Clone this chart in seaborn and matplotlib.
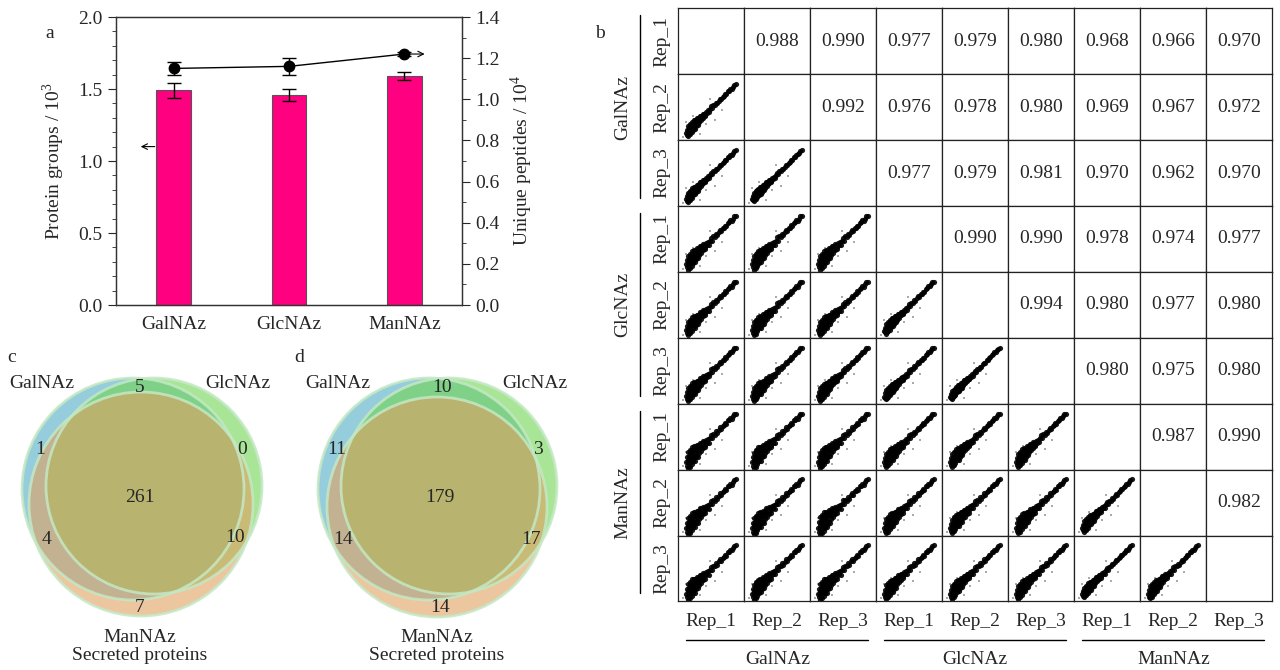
import numpy as np
import matplotlib
matplotlib.use("Agg")
import matplotlib.pyplot as plt
import seaborn as sns
from matplotlib.patches import Circle
from matplotlib.ticker import MultipleLocator, FormatStrFormatter

# ---- data ----
groups = ["GalNAz", "GlcNAz", "ManNAz"]
reps = ["Rep_1", "Rep_2", "Rep_3"]

protein_groups = [1.49, 1.46, 1.59]      # x 10^3
protein_err = [0.05, 0.04, 0.025]
peptides = [1.15, 1.16, 1.22]            # x 10^4
peptides_err = [0.033, 0.043, 0.010]

# Pearson r, upper triangle (row i, columns i+1 .. 8)
corr_upper = [
    [0.988, 0.990, 0.977, 0.979, 0.980, 0.968, 0.966, 0.970],
    [0.992, 0.976, 0.978, 0.980, 0.969, 0.967, 0.972],
    [0.977, 0.979, 0.981, 0.970, 0.962, 0.970],
    [0.990, 0.990, 0.978, 0.974, 0.977],
    [0.994, 0.980, 0.977, 0.980],
    [0.980, 0.975, 0.980],
    [0.987, 0.990],
    [0.982],
]

# approximate shape of the replicate scatter clouds (x, offset from diagonal)
cloud = [
    (0.12, 0.01), (0.13, -0.03), (0.13, 0.05), (0.14, 0.02), (0.14, -0.06),
    (0.15, 0.08), (0.15, -0.01), (0.16, 0.04), (0.16, -0.05), (0.17, 0.09),
    (0.17, 0.00), (0.18, -0.07), (0.18, 0.06), (0.19, 0.02), (0.19, -0.03),
    (0.20, 0.07), (0.20, -0.06), (0.21, 0.03), (0.21, 0.09), (0.22, -0.02),
    (0.22, 0.05), (0.23, -0.05), (0.23, 0.01), (0.24, 0.08), (0.24, -0.03),
    (0.25, 0.04), (0.25, -0.06), (0.26, 0.00), (0.26, 0.06), (0.27, -0.04),
    (0.27, 0.03), (0.28, 0.07), (0.28, -0.02), (0.29, 0.02), (0.30, -0.05),
    (0.30, 0.05), (0.31, 0.00), (0.32, 0.04), (0.32, -0.03), (0.33, 0.06),
    (0.34, 0.01), (0.35, -0.03), (0.35, 0.04), (0.36, 0.00), (0.37, 0.05),
    (0.38, -0.02), (0.39, 0.03), (0.40, 0.00), (0.41, -0.03), (0.42, 0.03),
    (0.43, 0.00), (0.45, 0.02), (0.46, -0.02), (0.48, 0.01), (0.50, 0.03),
    (0.51, -0.01), (0.53, 0.02), (0.55, 0.00), (0.57, 0.02), (0.59, -0.01),
    (0.61, 0.01), (0.63, 0.02), (0.65, -0.01), (0.67, 0.01), (0.69, 0.00),
    (0.71, 0.01), (0.73, -0.01), (0.75, 0.01), (0.77, 0.00), (0.79, 0.01),
    (0.81, -0.01), (0.83, 0.00), (0.85, 0.01), (0.87, 0.00),
]
outliers = [(0.07, 0.05), (0.42, 0.24), (0.66, 0.45), (0.22, 0.36),
            (0.33, 0.09), (0.55, 0.31), (0.12, 0.27), (0.48, 0.62)]

# venn region counts: GalNAz, GlcNAz, ManNAz, Gal&Glc, Gal&Man, Glc&Man, all
venn_c = [1, 0, 7, 5, 4, 10, 261]
venn_d = [11, 3, 14, 10, 14, 17, 179]

sns.set_style("ticks")
plt.rcParams["font.family"] = ["Liberation Serif", "DejaVu Serif"]
plt.rcParams["mathtext.fontset"] = "custom"
plt.rcParams["mathtext.rm"] = "Liberation Serif"
FS = 14

fig = plt.figure(figsize=(12.8, 6.7), dpi=100)
W, H = 1280, 670


def rect(x0, y0, x1, y1):
    return [x0 / W, 1 - y1 / H, (x1 - x0) / W, (y1 - y0) / H]


# overlay in pixel coordinates for labels, lines and venns
bg = fig.add_axes([0, 0, 1, 1])
bg.set_xlim(0, W)
bg.set_ylim(H, 0)
bg.axis("off")

# ---- panel a ----
ax = fig.add_axes(rect(116, 17, 462, 305))
sns.barplot(x=groups, y=protein_groups, color="#FF0080", saturation=1,
            width=0.3, edgecolor="#555555", linewidth=0.8, ax=ax)
ax.errorbar(range(3), protein_groups, yerr=protein_err, fmt="none",
            ecolor="black", elinewidth=1, capsize=5, capthick=1)
ax.set_ylim(0, 2.0)
ax.set_xlim(-0.5, 2.5)
ax.yaxis.set_major_locator(MultipleLocator(0.5))
ax.yaxis.set_minor_locator(MultipleLocator(0.1))
ax.yaxis.set_major_formatter(FormatStrFormatter("%.1f"))
ax.set_ylabel(r"Protein groups / 10$^3$", fontsize=FS, labelpad=8)
ax.set_xlabel("")
ax.tick_params(axis="x", length=0, labelsize=FS, pad=8)
ax.tick_params(axis="y", which="major", length=6, labelsize=FS)
ax.tick_params(axis="y", which="minor", length=3)
ax.annotate("", xy=(-0.31, 1.10), xytext=(-0.14, 1.10),
            arrowprops=dict(arrowstyle="->", color="black", lw=0.8))

ax2 = ax.twinx()
ax2.errorbar(range(3), peptides, yerr=peptides_err, fmt="-o", color="black",
             ms=7.5, lw=1, elinewidth=1, capsize=5, capthick=1)
ax2.set_ylim(0, 1.4)
ax2.yaxis.set_major_locator(MultipleLocator(0.2))
ax2.yaxis.set_minor_locator(MultipleLocator(0.1))
ax2.yaxis.set_major_formatter(FormatStrFormatter("%.1f"))
ax2.set_ylabel(r"Unique peptides / 10$^4$", fontsize=FS, labelpad=6)
ax2.tick_params(axis="y", which="major", length=6, labelsize=FS)
ax2.tick_params(axis="y", which="minor", length=3)
ax2.annotate("", xy=(2.2, peptides[2]), xytext=(2.02, peptides[2]),
             arrowprops=dict(arrowstyle="->", color="black", lw=0.8))
for a in (ax, ax2):
    for s in a.spines.values():
        s.set_linewidth(0.9)
        s.set_color("#333333")

# ---- panel b ----
gx0, gy0, cw, ch = 678.3, 8.3, 66.0, 65.9
names = [(g, r) for g in groups for r in reps]
n = len(names)


def r_of(i, j):
    a, b = min(i, j), max(i, j)
    return corr_upper[a][b - a - 1]


cx = np.array([p[0] for p in cloud])
cres = np.array([p[1] for p in cloud])
for i in range(n):
    for j in range(n):
        cax = fig.add_axes(rect(gx0 + j * cw, gy0 + i * ch,
                                gx0 + (j + 1) * cw, gy0 + (i + 1) * ch))
        cax.set_xlim(0, 1)
        cax.set_ylim(0, 1)
        cax.set_xticks([])
        cax.set_yticks([])
        for s in cax.spines.values():
            s.set_linewidth(0.9)
            s.set_color("#222222")
        if j > i:
            cax.text(0.5, 0.5, f"{r_of(i, j):.3f}", ha="center", va="center",
                     fontsize=FS, transform=cax.transAxes)
        elif j < i:
            k = 1.3 * np.sqrt((1 - r_of(i, j)) / 0.02)
            sns.scatterplot(x=[p[0] for p in outliers],
                            y=[p[1] for p in outliers], ax=cax, s=4,
                            marker="s", color="#aaaaaa", linewidth=0)
            sns.scatterplot(x=cx, y=cx - 0.02 + cres * k, ax=cax, s=14,
                            marker="o", color="black", linewidth=0, alpha=0.9)

for i, (g, r) in enumerate(names):
    yc = gy0 + (i + 0.5) * ch
    xc = gx0 + (i + 0.5) * cw
    bg.text(662, yc, r, rotation=90, ha="center", va="center", fontsize=FS)
    bg.text(xc, 621, r, ha="center", va="center", fontsize=FS)
for gi, g in enumerate(groups):
    t = gy0 + gi * 3 * ch
    bg.plot([640, 640], [t + 7, t + 3 * ch - 8], color="black", lw=1)
    bg.text(623, t + 1.5 * ch, g, rotation=90, ha="center", va="center",
            fontsize=FS)
    l = gx0 + gi * 3 * cw
    bg.plot([l + 8, l + 3 * cw - 8], [640, 640], color="black", lw=1)
    bg.text(l + 1.5 * cw, 660, g, ha="center", va="center", fontsize=FS)

# ---- panels c, d (venn) ----
venn_cols = ["#50ACC5", "#71D550", "#E0A060"]
venn_layout = {
    "c": dict(circles=[(133, 489, 111), (154, 486, 108), (141, 504, 112)],
              labels=[(40, 450), (242, 449), (140, 607), (140, 388),
                      (47, 539), (235, 538), (140, 498)],
              sets=[(42, 383), (238, 383), (140, 637)], letter=(12, 358)),
    "d": dict(circles=[(429, 489, 111), (449, 486, 108), (437, 507, 110)],
              labels=[(337, 450), (538, 449), (440, 607), (442, 388),
                      (343, 540), (531, 540), (440, 498)],
              sets=[(338, 383), (535, 383), (437, 637)], letter=(299, 358)),
}
for key, counts in (("c", venn_c), ("d", venn_d)):
    lay = venn_layout[key]
    for (x, y, rr), col in zip(lay["circles"], venn_cols):
        bg.add_patch(Circle((x, y), rr, facecolor=col, alpha=0.6,
                            edgecolor="none"))
    for (x, y, rr) in lay["circles"]:
        bg.add_patch(Circle((x, y), rr, facecolor="none",
                            edgecolor="#c4e8c4", lw=2, alpha=0.85))
    for (x, y), v in zip(lay["labels"], counts):
        bg.text(x, y, str(v), ha="center", va="center", fontsize=FS)
    for (x, y), g in zip(lay["sets"], groups):
        bg.text(x, y, g, ha="center", va="center", fontsize=FS)
    sx, sy = lay["sets"][2]
    bg.text(sx, sy + 19, "Secreted proteins", ha="center", va="center",
            fontsize=FS)
    bg.text(*lay["letter"], key, ha="center", va="center", fontsize=FS)

bg.text(50, 33, "a", ha="center", va="center", fontsize=FS)
bg.text(600, 33, "b", ha="center", va="center", fontsize=FS)

fig.savefig("out.png", dpi=100, facecolor="white")
